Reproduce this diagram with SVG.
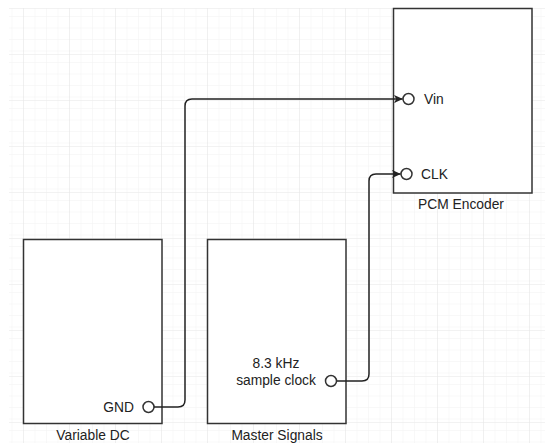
<svg xmlns="http://www.w3.org/2000/svg" width="545" height="443" viewBox="0 0 545 443">
  <style>
    .box { fill: #ffffff; stroke: #333333; stroke-width: 1.5; }
    .port { fill: #ffffff; stroke: #333333; stroke-width: 1.5; }
    .lbl { font-family: "Liberation Sans", Arial, sans-serif; font-size: 13.8px; fill: #222222; }
    .wire { fill: none; stroke: #222222; stroke-width: 1.5; }
  </style>
  <defs>
    <pattern id="minor" x="0" y="8" width="11.5" height="11.5" patternUnits="userSpaceOnUse">
      <path d="M 11.5 0 L 0 0 0 11.5" fill="none" stroke="#f2f2f2" stroke-width="1"/>
    </pattern>
    <pattern id="major" x="23" y="8" width="46" height="46" patternUnits="userSpaceOnUse">
      <rect width="46" height="46" fill="url(#minor)"/>
      <path d="M 46 0 L 0 0 0 46" fill="none" stroke="#e6e6e6" stroke-width="1"/>
    </pattern>
    <marker id="arrow" viewBox="0 0 10 10" refX="9.5" refY="5" markerWidth="9" markerHeight="9" markerUnits="userSpaceOnUse" orient="auto">
      <path d="M0,0.5 L10,5 L0,9.5 L2.5,5 Z" fill="#222222"/>
    </marker>
  </defs>
  <rect width="545" height="443" fill="#ffffff"/>
  <rect x="9" y="8" width="536" height="435" fill="url(#major)"/>

  <g id="pcm-encoder">
    <rect class="box" x="393.5" y="8.5" width="138.5" height="184.5"/>
    <circle class="port" cx="408.5" cy="99" r="5.5"/>
    <text class="lbl" x="424" y="104">Vin</text>
    <circle class="port" cx="406.5" cy="174" r="5.5"/>
    <text class="lbl" x="421" y="179">CLK</text>
    <text class="lbl" x="461" y="209" text-anchor="middle">PCM Encoder</text>
  </g>

  <g id="variable-dc">
    <rect class="box" x="23.5" y="239.5" width="138.5" height="184"/>
    <circle class="port" cx="148.5" cy="407" r="5.5"/>
    <text class="lbl" x="134" y="412" text-anchor="end">GND</text>
    <text class="lbl" x="93" y="440" text-anchor="middle">Variable DC</text>
  </g>

  <g id="master-signals">
    <rect class="box" x="207.5" y="239.5" width="138.5" height="184"/>
    <circle class="port" cx="331" cy="381" r="5.5"/>
    <text class="lbl" x="276" y="368" text-anchor="middle">8.3 kHz</text>
    <text class="lbl" x="276" y="385" text-anchor="middle">sample clock</text>
    <text class="lbl" x="277" y="440" text-anchor="middle">Master Signals</text>
  </g>

  <g id="connectors">
    <path class="wire" d="M154,407 H178 Q185,407 185,400 V106 Q185,99 192,99 H402.5" marker-end="url(#arrow)"/>
    <path class="wire" d="M337,381 H362 Q369,381 369,374 V181 Q369,174 376,174 H400.5" marker-end="url(#arrow)"/>
  </g>
</svg>
